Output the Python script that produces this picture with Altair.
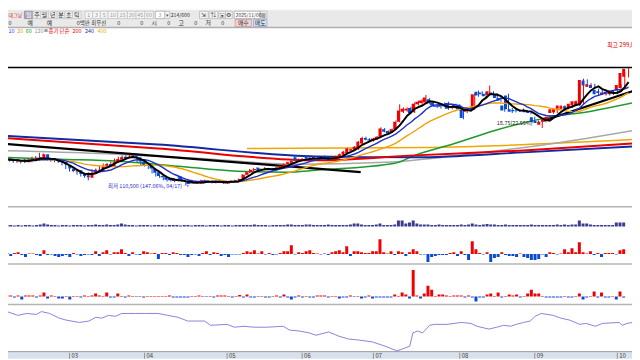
import altair as alt
import pandas as pd

# ------------------------------------------------------------------ data
# daily candles, prices in thousand won (index 0 = left edge of the chart)
open_ = [150,153,149,152,148,150,147,151,149,155,
         150,160,152,150,151,149,147,143,137,132,
         134,128,126,122,130,135,133,139,144,141,
         147,151,156,153,155,158,155,148,141,143,
         137,131,125,123,120,121,117,124,119,116,
         114,113,114,113,118,115,117,114,116,117,
         113,115,118,116,119,127,131,134,138,134,
         135,136,137,134,137,140,144,146,155,150,
         151,157,152,156,152,153,157,155,151,154,
         156,159,162,166,167,168,177,186,184,181,
         184,188,200,197,195,200,212,228,230,234,
         227,240,242,243,248,243,238,240,241,242,
         234,239,238,233,228,235,232,260,259,257,
         255,259,256,250,238,254,232,231,231,229,
         230,228,219,213,207,212,215,226,227,233,
         233,237,235,238,238,240,278,268,271,263,
         261,255,260,256,263,262,266,284]
high_ = [155,154,153,153,151,151,152,153,156,157,
         162,161,153,152,152,150,148,144,138,135,
         135,129,127,131,136,137,141,145,146,148,
         153,156,158,158,159,159,156,149,145,144,
         138,132,127,124,121,122,120,125,120,117,
         115,115,116,119,119,118,118,117,118,118,
         116,118,119,121,128,132,136,138,139,137,
         139,138,138,139,142,145,148,151,157,153,
         154,158,155,157,155,156,158,156,155,158,
         161,165,170,169,173,181,188,188,186,186,
         189,203,202,198,201,214,240,235,235,236,
         243,246,248,255,250,245,240,242,243,244,
         239,241,240,234,234,236,258,262,261,259,
         270,261,258,252,240,257,234,233,232,233,
         231,229,220,214,213,217,221,233,233,239,
         238,239,242,246,246,281,280,274,273,265,
         263,260,262,263,264,272,291,299]
low_ = [149,147,148,146,146,145,146,148,147,149,
        149,150,149,148,147,146,142,136,132,131,
        127,124,122,118,129,132,132,138,140,140,
        146,150,152,152,154,154,147,141,140,136,
        129,124,122,118,116,116,115,117,116,110.5,
        112,112,113,112,114,114,113,113,115,112,
        112,114,115,115,118,126,130,133,133,133,
        134,135,133,133,136,139,143,145,149,149,
        150,152,151,152,151,152,151,150,150,153,
        155,158,161,165,166,167,176,182,181,180,
        183,187,195,192,194,199,211,226,228,224,
        226,238,240,242,240,236,234,233,235,231,
        232,233,230,216,226,230,231,252,254,251,
        254,254,248,244,228,230,226,227,228,228,
        226,224,210,208,202,211,214,225,226,232,
        232,232,234,237,237,239,268,267,264,254,
        256,254,254,255,256,260,265,283]
close_ = [153,149,152,148,150,147,151,149,154,150,
          160,152,150,151,149,147,143,137,133,134,
          128,125,123,130,135,133,140,144,141,147,
          152,155,153,156,158,155,148,142,143,137,
          130,125,123,119,118,117,119,118,117,112,
          113,114,115,118,115,117,114,116,117,113,
          115,117,116,120,127,131,135,136,134,136,
          137,137,134,138,141,144,147,149,150,152,
          152,153,154,153,154,155,152,151,154,157,
          160,164,169,168,172,180,186,183,182,185,
          188,201,196,193,200,212,230,233,233,226,
          241,244,246,251,242,238,236,236,237,233,
          237,235,232,218,232,232,256,254,256,253,
          261,256,250,246,230,232,228,229,230,231,
          227,226,211,210,212,216,220,232,232,238,
          237,233,241,245,245,279,270,272,266,256,
          258,259,256,262,258,271,290,297]
# volume-like bars (upper strip of the 2nd pane)
vol_ = [1.5,1.5,1,1.5,1,1.5,1.5,1,1.5,2,
        3,2,1.5,1.5,1,1.5,1.5,1,1.5,1.5,
        1.5,1,1.5,1.5,2,1.5,1.5,2,1.5,1.5,
        2,3,2,1.5,1.5,1,1.5,1.5,1.5,1,
        1.5,1.5,1.5,1,1.5,1.5,1.5,1,1.5,1.5,
        1,1.5,1.5,1.5,1,1.5,1.5,1.5,1,1.5,
        1.5,1,1.5,1.5,1.5,1.5,1.5,2,1.5,1.5,
        1.5,1,1.5,1.5,1.5,1.5,2,2,1.5,1.5,
        1.5,2,2,1.5,1.5,1.5,1.5,2,1.5,1.5,
        1.5,1.5,1.5,2,3,3,2,1.5,1.5,1.5,
        2,3,1.5,1.5,1.5,2,6,6,3,4,
        6,3,2,2,2,1.5,1.5,2,1.5,1.5,
        1.5,1.5,1.5,2,1.5,2,3,2,1.5,2,
        2.5,2,2,1.5,1.5,2,1.5,1.5,1.5,1.5,
        1.5,1.5,2,1.5,1.5,1.5,1.5,1.5,1.5,2,
        1.5,2,1.5,2,2,6,3,3,2,1.5,
        1.5,1.5,1.5,1.5,1.5,4,4,4]
# signed histogram, lower strip of the 2nd pane
osc1_ = [1,-2,1,2,-1,-3,0.5,0.5,-1,-2,
         4,-1,-0.5,-2,-3,-2,-1,-3,1,-0.5,
         -2,-1,-0.5,-1,3,-2,2,4,-0.5,2,
         2,5,1,-2,2,-0.5,-1,3,2,0.5,
         1,-5,1,1,-1,2,1,-1,-1,-3,
         -1,-0.5,-2,1,3,-1,2,1,-2,-1,
         -3,-0.5,-0.5,-0.5,1,3,2,4,0.5,3,
         -0.5,1,-1,-0.5,1,3,3,9,-0.5,2,
         1,3,4,1,0.5,-0.5,0.5,-1,2,3,
         4,2,8,-2,3,3,2,1,1,3,
         3,15,2,0.5,3,-1,3,2,-2,2,
         5,3,-0.5,-0.5,-8,-3,-2,-1,-1,-1,
         1,2,-2,3,-1,-6,13,5,1,-0.5,
         2,-8,-4,-3,2,-1,-2,-2,-3,0.5,
         -3,-4,-6,-6,-5,-0.5,-3,2,1,-0.5,
         0.5,5,2,6,2,12,2,0.5,3,-1,
         1,-3,1,1,1,-0.5,4,5]
# signed histogram, 3rd pane
osc2_ = [1,1,-1,1,-3,1,1,1,-1,1,
         4,-2,1,0.5,-2,-2,0.5,-3,0.5,0.5,
         -1,1,0.5,1,3,1,0.5,4,-1,-1,
         3,0.5,-1,1,0.5,-0.5,0.5,-1,0.5,0.5,
         0.5,0.5,0.5,0.5,1,-1,-1,-1,-1,-1,
         0.5,0.5,1,0.5,-0.5,0.5,-1,1,1,1,
         0.5,-1,0.5,1.5,-1,2,-1,-1,0.5,0.5,
         -1,-1,0.5,1,-1,2,-1,-3,-1,1,
         -1,0.5,-1,-1,1,1,1,-1,0.5,0.5,
         -2,-1,-1,1,-0.5,0.5,-2,-1,1,-2,
         -1,-1,-1,-1,-1,2,0.5,4,2,-2,
         27,1,-2,3,11,7,0.5,2,2,1,
         0.5,1,1,1,-1,1,-1,-5,-1,-1,
         2,3,0.5,4,-1,0.5,2,1,2,-1,
         0.5,3,7,3,3,0.5,-1,-1,-1,-1,
         -1,0.5,-1,-1,0.5,3,-3,-1,0.5,5,
         -1,4,-1,-1,0.5,-3,5,-1]
# oscillator line of the bottom pane (candle index, value 0-100)
purple_i = [0,1.3,4.2,6.6,9.2,10.5,12.7,15.3,17.1,20.6,23.2,25,26.6,28.4,30.3,31.9,
            35.6,38.2,41.6,44.2,46.9,49.5,52.1,54,55.6,60,61.9,64.5,67.1,70.6,75,76.6,
            79.2,81.9,83.7,87.1,89.8,92.4,95,98.7,102.1,105.3,107.4,108.7,109.5,110.8,
            112.1,114,115.3,118.7,122.4,125,126.6,129.8,131.9,133.7,135.6,137.1,139,
            140.8,142.1,143.7,146.9,149,151.3,154,155.6,158.2,160,164.5,165.3,166.6,168]
purple_v = [81,85,77,81,79,85,81,71,67,62,65,73,71,77,75,81,
            81,81,81,77,73,65,65,65,56,58,52,54,52,52,54,46,
            44,40,35,42,33,27,25,21,12,2,8,12,40,44,
            40,56,58,58,62,60,54,48,52,56,54,58,62,
            65,75,81,77,71,67,58,60,54,60,62,56,60,62]
# long moving averages (candle index, thousand won)
ma60_i = [-0.5,15.3,31.1,46.9,62.7,75.8,83.7,104.8,110,120.6,131.1,145,157.4,168]
ma60_v = [154.9,151.7,148.5,140.6,132.7,131.1,134.3,145.4,158.0,177.0,197.6,218.2,229.3,242.0]
ma120_i = [-0.5,25.8,52.1,78.4,102.1,128.5,146.9,168]
ma120_v = [165.9,161.2,153.3,143.8,146.9,162.8,177.0,197.6]
ma200_i = [-0.5,41.6,83.7,110,139,168]
ma200_v = [186.5,169.1,150.1,158.0,165.9,177.0]
ma240_i = [-0.5,41.6,83.7,110,139,168]
ma240_v = [189.7,175.4,156.4,154.9,162.8,172.3]
ma400_i = [65.3,112.7,168]
ma400_v = [169.1,170.7,183.4]
trend1_i = [-0.5,95.6]
trend1_v = [177.0,131.1]
trend2_i = [144.3,168]
trend2_v = [213.5,261.0]
price_max = 299.0
month_lbl = ["03","04","05","06","07","08","09","10"]
month_i = [18,38,60,80,99,122,142,164]

# ------------------------------------------------------------------ styles
W, H = 632, 352
FONT = "Noto Sans CJK KR"
RED, BLUE = "#F00000", "#0A48D6"
XS = alt.Scale(domain=[1.605, 167.92], range=[0, W], nice=False, zero=False)
PX = alt.Scale(domain=[8, 640], range=[0, W], nice=False, zero=False)     # reference pixel grid
HX = alt.Scale(domain=[0, 320], range=[0, 312], nice=False, zero=False)   # toolbar, squeezed past the page margin
PY = alt.Scale(domain=[8, 360], range=[0, H], nice=False, zero=False)
PRICE = alt.Scale(domain=[110.5, 299], range=[177, 58], nice=False, zero=False)
VOL = alt.Scale(domain=[0, 10], range=[219, 209], nice=False, zero=False)
OSC1 = alt.Scale(domain=[-10, 10], range=[257, 237], nice=False, zero=False)
OSC2 = alt.Scale(domain=[-10, 30], range=[300, 260], nice=False, zero=False)
PURP = alt.Scale(domain=[0, 100], range=[346, 298], nice=False, zero=False)

n = len(close_)
cdf = pd.DataFrame({"i": list(range(n)), "o": open_, "h": high_, "l": low_, "c": close_,
                    "vol": vol_, "o1": osc1_, "o2": osc2_})

X = alt.X("i:Q", scale=XS, axis=None)
updown = alt.condition("datum.c >= datum.o", alt.value(RED), alt.value(BLUE))

# ------------------------------------------------------------------ header chrome
BTN, BTN_S = "#EDEDED", "#C8C8C8"
NUM, NUM_S = "#F4F4F4", "#C4C4C4"
hdr_rects = pd.DataFrame([
    # x0, x1, y0, y1, fill, stroke
    (17, 26, 9, 16.5, "#A9ABBA", "#8C8C9A"),
    (26, 34, 9, 16.5, BTN, BTN_S), (34, 42, 9, 16.5, BTN, BTN_S),
    (42, 51, 9, 16.5, BTN, BTN_S), (51, 59, 9, 16.5, BTN, BTN_S),
    (59, 67, 9, 16.5, BTN, BTN_S), (67, 76, 9, 16.5, BTN, BTN_S),
    (80, 88, 9, 16.5, NUM, NUM_S), (88, 96, 9, 16.5, NUM, NUM_S),
    (96, 104, 9, 16.5, NUM, NUM_S), (104, 114, 9, 16.5, NUM, NUM_S),
    (114, 124, 9, 16.5, NUM, NUM_S), (124, 133, 9, 16.5, NUM, NUM_S),
    (133, 142, 9, 16.5, NUM, NUM_S), (142, 151, 9, 16.5, NUM, NUM_S),
    (153, 163, 9, 16.5, "#FFFFFF", "#A8A8A8"), (163, 168, 9, 16.5, NUM, "#B8B8B8"),
    (199, 208, 9, 16.5, NUM, "#B8B8B8"), (209, 218, 9, 16.5, NUM, "#B8B8B8"),
    (219, 226, 9, 16.5, NUM, "#B8B8B8"), (226, 233, 9, 16.5, NUM, "#B8B8B8"),
    (235, 262, 9, 16.5, "#FFFFFF", "#A8A8A8"), (262, 269, 9, 16.5, NUM, "#B8B8B8"),
    (236, 253, 17.5, 24.5, "#F6D2D2", "#C89A9A"), (255, 269, 17.5, 24.5, "#D2E2F6", "#9AAAC8"),
], columns=["x0", "x1", "y0", "y1", "fill", "stroke"])

hdr_text_c = pd.DataFrame([
    # x, y, text, colour, size
    (7.5, 12.8, "대그닝", "#E01010", 5), (21.5, 12.8, "일", "#FFFFFF", 6), (30, 12.8, "주", "#333333", 6),
    (38, 12.8, "월", "#333333", 6), (46.5, 12.8, "년", "#333333", 6), (55, 12.8, "분", "#333333", 6),
    (63, 12.8, "초", "#333333", 6), (71.5, 12.8, "틱", "#333333", 6),
    (84, 12.8, "1", "#9A9A9A", 5.5), (92, 12.8, "3", "#9A9A9A", 5.5), (100, 12.8, "5", "#9A9A9A", 5.5),
    (109, 12.8, "10", "#9A9A9A", 5.5), (119, 12.8, "15", "#9A9A9A", 5.5), (128.5, 12.8, "30", "#9A9A9A", 5.5),
    (137.5, 12.8, "45", "#9A9A9A", 5.5), (146.5, 12.8, "60", "#9A9A9A", 5.5), (158, 12.8, "3", "#9A9A9A", 5.5),
    (165.5, 12.8, "▾", "#555555", 5), (203.5, 12.8, "⇲", "#333333", 6), (213.5, 12.8, "⇅", "#333333", 6),
    (222.5, 12.8, "▣", "#333333", 5), (229.5, 12.8, "⚙", "#333333", 6), (265.5, 12.8, "▦", "#333333", 5),
    (23, 21, "예", "#333333", 6), (43, 21, "예", "#333333", 6), (115, 21, "0", "#333333", 5.5),
    (139, 21, "0", "#333333", 5.5), (152, 21, "시", "#333333", 6), (167, 21, "0", "#333333", 5.5),
    (180, 21, "고", "#333333", 6), (195, 21, "0", "#333333", 5.5), (208, 21, "저", "#333333", 6),
    (223, 21, "0", "#333333", 5.5), (244.5, 21, "매수", "#333333", 6), (262, 21, "매도", "#333333", 6),
], columns=["x", "y", "t", "col", "s"])
hdr_text_l = pd.DataFrame([
    (169, 12.8, "214/600", "#333333", 5.2), (236.5, 12.8, "2025/11/06", "#333333", 5),
    (0.5, 21, "0", "#333333", 5.5), (86.5, 21, "최우선", "#333333", 5.5),
    (0.5, 29.5, "10", "#2040E0", 5.5), (9.5, 29.5, "20", "#E8A000", 5.5), (18.5, 29.5, "60", "#109A10", 5.5),
    (27.5, 29.5, "120", "#909090", 5.5), (37.5, 29.5, "■", "#A0A0A0", 4), (42, 29.5, "종가 단순", "#F00000", 5.5),
    (67, 29.5, "200", "#F00000", 5.5), (80, 29.5, "240", "#2030B0", 5.5), (93, 29.5, "400", "#F0B000", 5.5),
], columns=["x", "y", "t", "col", "s"])
hdr_text_r = pd.DataFrame([(85, 21, "0백만", "#333333", 5.5)], columns=["x", "y", "t", "col", "s"])

borders = pd.DataFrame({"y": [25.5, 207, 265, 306, 354],
                        "col": ["#B0B0B0", "#B4B4B4", "#B4B4B4", "#B4B4B4", "#A8A8A8"],
                        "w": [1.5, 1.5, 1.5, 1.5, 1.5]})


def rect_layer(df, xscale):
    return alt.Chart(df).mark_rect(strokeWidth=0.8).encode(
        x=alt.X("x0:Q", scale=xscale, axis=None), x2="x1:Q",
        y=alt.Y("y0:Q", scale=PY, axis=None), y2="y1:Q",
        fill=alt.Fill("fill:N", scale=None), stroke=alt.Stroke("stroke:N", scale=None))


def text_layer(df, align):
    return alt.Chart(df).mark_text(align=align, baseline="middle", font=FONT).encode(
        x=alt.X("x:Q", scale=HX, axis=None), y=alt.Y("y:Q", scale=PY, axis=None),
        text="t:N", color=alt.Color("col:N", scale=None), size=alt.Size("s:Q", scale=None))


toolbar_bg = pd.DataFrame([(8, 640, 8, 25.5, "#E9E9E9", "#E9E9E9")],
                          columns=["x0", "x1", "y0", "y1", "fill", "stroke"])
layers = [rect_layer(toolbar_bg, PX), rect_layer(hdr_rects, HX), text_layer(hdr_text_c, "center"),
          text_layer(hdr_text_l, "left"), text_layer(hdr_text_r, "right")]

layers.append(alt.Chart(borders).mark_rule().encode(
    x=alt.value(0), x2=alt.value(W), y=alt.Y("y:Q", scale=PY, axis=None),
    color=alt.Color("col:N", scale=None), strokeWidth=alt.StrokeWidth("w:Q", scale=None)))

# ------------------------------------------------------------------ price pane
layers.append(alt.Chart(pd.DataFrame({"p": [price_max]})).mark_rule(color="#000000", strokeWidth=1.5).encode(
    x=alt.value(0), x2=alt.value(W), y=alt.Y("p:Q", scale=PRICE, axis=None)))


def line_layer(ii, vv, color, width, interp="monotone"):
    return alt.Chart(pd.DataFrame({"i": ii, "v": vv})).mark_line(
        color=color, strokeWidth=width, interpolate=interp, clip=True).encode(
        x=X, y=alt.Y("v:Q", scale=PRICE, axis=None), order="i:Q")


layers += [
    line_layer(ma400_i, ma400_v, "#F0A800", 1.5),
    line_layer(ma120_i, ma120_v, "#A8A8A8", 1.5),
    line_layer(ma60_i, ma60_v, "#1E9A28", 1.5),
    line_layer(ma240_i, ma240_v, "#1428A0", 2),
    line_layer(ma200_i, ma200_v, "#E80000", 2),
    line_layer(trend1_i, trend1_v, "#000000", 2.2, "linear"),
    line_layer(trend2_i, trend2_v, "#000000", 2.2, "linear"),
]

layers.append(alt.Chart(cdf).mark_rule(strokeWidth=1, clip=True).encode(
    x=X, y=alt.Y("l:Q", scale=PRICE, axis=None), y2="h:Q", color=updown))
layers.append(alt.Chart(cdf).mark_bar(size=3, clip=True).encode(
    x=X, y=alt.Y("o:Q", scale=PRICE, axis=None), y2="c:Q", color=updown))

for win, col, wd in [(20, "#F0A000", 1.4), (10, "#1E32C8", 1.4), (5, "#000000", 2)]:
    layers.append(alt.Chart(cdf).transform_window(
        ma="mean(c)", frame=[-(win - 1), 0], sort=[alt.SortField("i")]).mark_line(
        color=col, strokeWidth=wd, clip=True).encode(
        x=X, y=alt.Y("ma:Q", scale=PRICE, axis=None), order="i:Q"))

notes_l = pd.DataFrame({"i": [161.3, 131.9], "p": [335.4, 210.3],
                        "t": ["최고 299,000", "18.75(22.55%)"], "col": ["#E00000", "#202020"],
                        "s": [6, 5.5]})
notes_r = pd.DataFrame({"i": [49.8], "p": [109.0], "t": ["최저 110,500 (147.06%, 04/17) →"],
                        "col": ["#2828E0"], "s": [5.5]})
for df, al in [(notes_l, "left"), (notes_r, "right")]:
    layers.append(alt.Chart(df).mark_text(align=al, baseline="middle", font=FONT).encode(
        x=X, y=alt.Y("p:Q", scale=PRICE, axis=None), text="t:N",
        color=alt.Color("col:N", scale=None), size=alt.Size("s:Q", scale=None)))

# ------------------------------------------------------------------ lower panes
layers.append(alt.Chart(cdf).mark_bar(size=3, color="#3A3A92", clip=True).encode(
    x=X, y=alt.Y("vol:Q", scale=VOL, axis=None), y2=alt.datum(0)))
sign1 = alt.condition("datum.o1 >= 0", alt.value(RED), alt.value(BLUE))
layers.append(alt.Chart(cdf).mark_bar(size=3, clip=True).encode(
    x=X, y=alt.Y("o1:Q", scale=OSC1, axis=None), y2=alt.datum(0), color=sign1))
sign2 = alt.condition("datum.o2 >= 0", alt.value(RED), alt.value(BLUE))
layers.append(alt.Chart(cdf).mark_bar(size=3, clip=True).encode(
    x=X, y=alt.Y("o2:Q", scale=OSC2, axis=None), y2=alt.datum(0), color=sign2))
layers.append(alt.Chart(pd.DataFrame({"i": purple_i, "v": purple_v})).mark_line(
    color="#8C80DC", strokeWidth=1, clip=True).encode(
    x=X, y=alt.Y("v:Q", scale=PURP, axis=None), order="i:Q"))

# ------------------------------------------------------------------ date strip
layers.append(alt.Chart(pd.DataFrame({"x0": [8], "x1": [640], "y0": [355], "y1": [361]})).mark_rect(
    color="#D8E2EE").encode(x=alt.X("x0:Q", scale=PX, axis=None), x2="x1:Q",
                            y=alt.Y("y0:Q", scale=PY, axis=None), y2="y1:Q"))
mdf = pd.DataFrame({"i": month_i, "t": month_lbl})
layers.append(alt.Chart(mdf).mark_tick(color="#707070", thickness=1, size=6, orient="vertical").encode(
    x=X, y=alt.value(350)))
layers.append(alt.Chart(mdf).mark_text(align="left", baseline="top", font=FONT, fontSize=6,
                                       color="#404040", dx=2).encode(
    x=X, y=alt.value(347), text="t:N"))

chart = alt.layer(*layers).resolve_scale(x="independent", y="independent").properties(
    width=W, height=H, autosize=alt.AutoSizeParams(type="none"), padding=0,
    background="#FFFFFF").configure_view(strokeWidth=0)

chart.save("out.html", embed_options={"renderer": "svg", "actions": False})
